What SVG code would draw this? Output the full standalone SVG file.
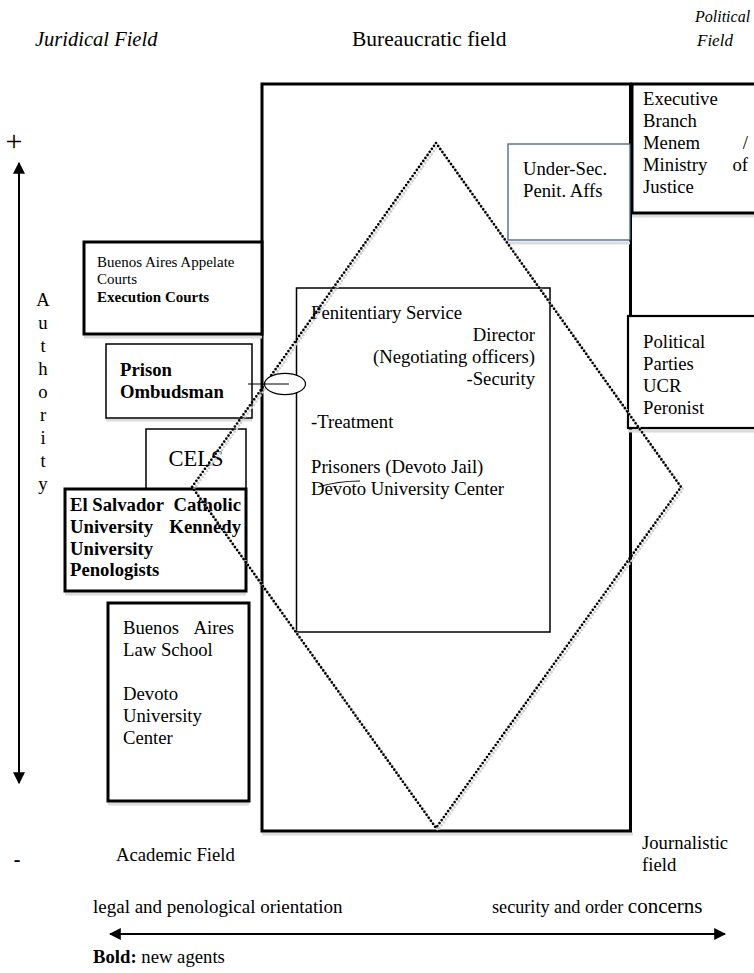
<svg xmlns="http://www.w3.org/2000/svg" width="754" height="973" viewBox="0 0 754 973">
  <style>
    text { font-family: "Liberation Serif", "Times New Roman", serif; font-size: 18.7px; fill: #000; }
    .it { font-style: italic; }
    .b { font-weight: bold; }
    .sm { font-size: 15px; }
    .end { text-anchor: end; }
    .mid { text-anchor: middle; }
    .box { fill: #fff; stroke: #000; }
    .thick { stroke-width: 3; }
    .thin { stroke-width: 1.5; }
    .shadow { fill: none; stroke: #dcdcdc; stroke-width: 3; }
    .axis { fill: none; stroke: #000; stroke-width: 2; }
    .dots { fill: none; stroke-width: 2.7; stroke-dasharray: 0 3.7; stroke-linecap: round; }
  </style>
  <defs>
    <marker id="tri" viewBox="0 0 10 10" refX="9" refY="5" markerWidth="6" markerHeight="6" orient="auto-start-reverse" markerUnits="strokeWidth">
      <path d="M0,0 L10,5 L0,10 z" fill="#000"/>
    </marker>
  </defs>

  <!-- field headings -->
  <g id="headings">
    <text class="it" x="35" y="46" style="font-size:20.5px">Juridical Field</text>
    <text x="352" y="46" style="font-size:21.5px">Bureaucratic field</text>
    <text class="it" x="695" y="22" style="font-size:16px">Political</text>
    <text class="it" x="697" y="46" style="font-size:17px">Field</text>
    <text x="116" y="861">Academic Field</text>
    <text x="642" y="849">Journalistic</text>
    <text x="642" y="871">field</text>
  </g>

  <!-- bureaucratic field frame -->
  <g id="bureaucratic-field">
    <line class="shadow" x1="262" y1="834" x2="633" y2="834"/>
    <rect x="262" y="84" width="368.5" height="747" fill="none" stroke="#000" stroke-width="3"/>
  </g>

  <g id="executive-branch">
    <line class="shadow" x1="632" y1="216" x2="754" y2="216"/>
    <rect class="box thick" x="632" y="84" width="130" height="129"/>
    <text x="643" y="105">Executive</text>
    <text x="643" y="127">Branch</text>
    <text x="643" y="149">Menem</text>
    <text class="end" x="748" y="149">/</text>
    <text x="643" y="171">Ministry</text>
    <text class="end" x="748" y="171">of</text>
    <text x="643" y="193">Justice</text>
  </g>

  <g id="under-secretary">
    <line class="shadow" x1="508" y1="243" x2="630" y2="243"/>
    <rect x="508" y="144" width="122" height="96" fill="#fff" stroke="#41618f" stroke-width="1.3"/>
    <text x="523" y="175">Under-Sec.</text>
    <text x="523" y="197">Penit. Affs</text>
  </g>

  <g id="political-parties">
    <line class="shadow" x1="628" y1="431" x2="754" y2="431"/>
    <rect class="box" x="628" y="316" width="134" height="112" stroke-width="2.2"/>
    <text x="643" y="348">Political</text>
    <text x="643" y="370">Parties</text>
    <text x="643" y="392">UCR</text>
    <text x="643" y="414">Peronist</text>
  </g>

  <g id="penitentiary-service">
    <rect class="box thin" x="296.5" y="288" width="253.5" height="344"/>
    <text x="311" y="319">Penitentiary Service</text>
    <text class="end" x="535" y="341">Director</text>
    <text class="end" x="535" y="363">(Negotiating officers)</text>
    <text class="end" x="535" y="385">-Security</text>
    <text x="311" y="428">-Treatment</text>
    <text x="311" y="473">Prisoners (Devoto Jail)</text>
    <text x="311" y="495">Devoto University Center</text>
    <path d="M318,487 Q338,481 360,481" fill="none" stroke="#000" stroke-width="1.2"/>
  </g>

  <g id="appellate-courts">
    <line class="shadow" x1="84" y1="337" x2="262" y2="337"/>
    <rect class="box thick" x="84" y="242" width="178" height="92"/>
    <text class="sm" x="97" y="267">Buenos Aires Appelate</text>
    <text class="sm" x="97" y="284">Courts</text>
    <text class="sm b" x="97" y="302">Execution Courts</text>
  </g>

  <g id="prison-ombudsman">
    <line class="shadow" x1="106" y1="420" x2="252" y2="420"/>
    <rect class="box thin" x="106" y="344" width="146" height="74"/>
    <text class="b" x="120" y="376">Prison</text>
    <text class="b" x="120" y="398">Ombudsman</text>
  </g>

  <g id="cels">
    <rect class="box thin" x="146" y="429" width="100" height="61"/>
    <text class="mid" x="196" y="466" style="font-size:22.5px">CELS</text>
  </g>

  <g id="catholic-universities">
    <line class="shadow" x1="65" y1="594" x2="246" y2="594"/>
    <rect class="box thick" x="65" y="489" width="181" height="102"/>
    <text class="b" x="70" y="511">El Salvador</text>
    <text class="b end" x="241" y="511">Catholic</text>
    <text class="b" x="70" y="533">University</text>
    <text class="b end" x="241" y="533">Kennedy</text>
    <text class="b" x="70" y="555">University</text>
    <text class="b" x="70" y="576">Penologists</text>
  </g>

  <g id="law-school">
    <line class="shadow" x1="108" y1="804" x2="249" y2="804"/>
    <rect class="box thick" x="108" y="603" width="141" height="198"/>
    <text x="123" y="634">Buenos</text>
    <text class="end" x="234" y="634">Aires</text>
    <text x="123" y="656">Law School</text>
    <text x="123" y="700">Devoto</text>
    <text x="123" y="722">University</text>
    <text x="123" y="744">Center</text>
  </g>

  <!-- field of struggle (dotted diamond) -->
  <g id="field-diamond">
    <polygon class="dots" points="437,144 682,488 437,829 193,488" stroke="#cfcfcf" transform="translate(1,1.2)"/>
    <polygon class="dots" points="436,143 681,487 436,828 192,487" stroke="#000"/>
  </g>

  <!-- connectors and axes -->
  <g id="connectors">
    <ellipse cx="285" cy="384" rx="20.5" ry="10.7" fill="#fff" stroke="#000" stroke-width="1.2"/>
    <line x1="248" y1="384" x2="289" y2="384" stroke="#000" stroke-width="1"/>
    <line class="axis" x1="19" y1="163" x2="19" y2="783" marker-start="url(#tri)" marker-end="url(#tri)"/>
    <line class="axis" x1="110" y1="934" x2="725" y2="934" marker-start="url(#tri)" marker-end="url(#tri)"/>
  </g>

  <g id="authority-axis">
    <text x="14" y="151" class="mid" style="font-size:30px">+</text>
    <text x="17" y="866" class="mid b" style="font-size:20px">-</text>
    <text class="mid" x="43" y="306">A</text>
    <text class="mid" x="43" y="329">u</text>
    <text class="mid" x="43" y="352">t</text>
    <text class="mid" x="43" y="375">h</text>
    <text class="mid" x="43" y="398">o</text>
    <text class="mid" x="43" y="421">r</text>
    <text class="mid" x="43" y="444">i</text>
    <text class="mid" x="43" y="467">t</text>
    <text class="mid" x="43" y="490">y</text>
  </g>

  <g id="orientation-axis">
    <text x="93" y="913" style="font-size:19px">legal and penological orientation</text>
    <text x="492" y="913" style="font-size:18.2px">security and order <tspan style="font-size:21px">concerns</tspan></text>
    <text x="93" y="963"><tspan class="b">Bold:</tspan> new agents</text>
  </g>
</svg>
